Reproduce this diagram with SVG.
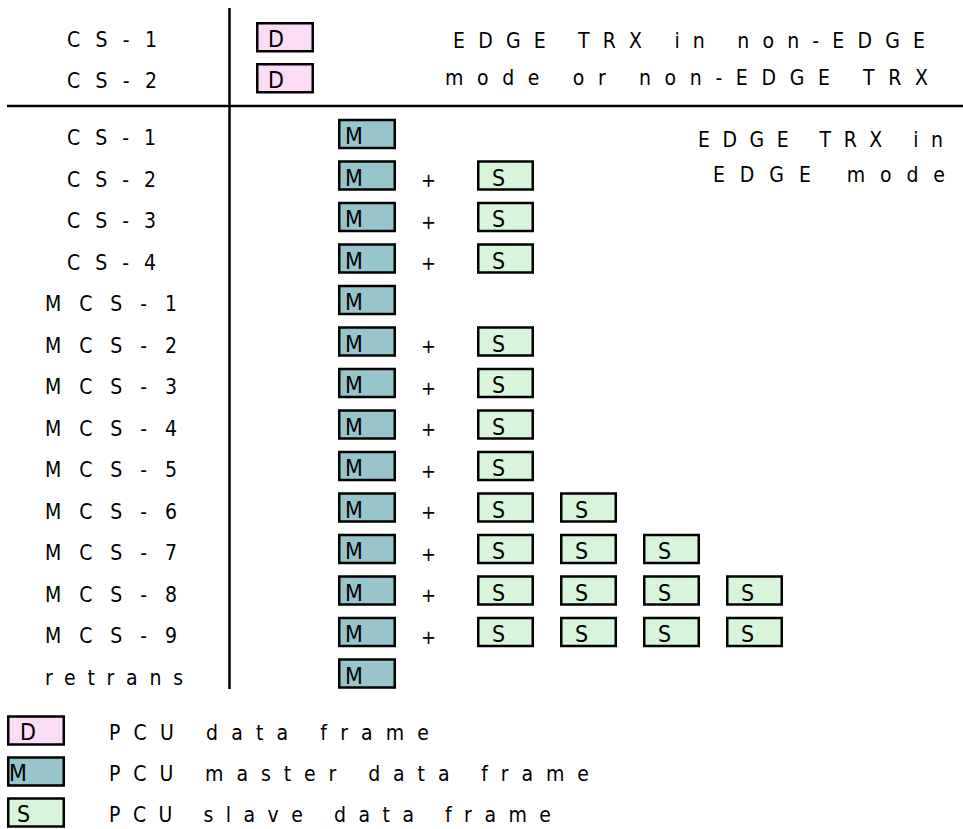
<svg xmlns="http://www.w3.org/2000/svg" width="963" height="829" viewBox="0 0 963 829">
<style>
text{font-family:"DejaVu Sans Condensed","Liberation Sans Narrow","DejaVu Sans",sans-serif;font-stretch:condensed;font-size:21px;fill:#000}
.k{font-size:23px}
.p{font-size:20px}
.bx{stroke:#000;stroke-width:2.5}
.d{fill:#fbdcf6}
.m{fill:#98c5cb}
.s{fill:#d8f5db}
.rule{stroke:#000;stroke-width:2.5;fill:none}
</style>
<rect width="963" height="829" fill="#fff"/>
<g id="connectors">
<line class="rule" x1="229.5" y1="8" x2="229.5" y2="689"/>
<line class="rule" x1="7" y1="106" x2="963" y2="106"/>
</g>
<g id="header">
<text x="453" y="48" textLength="472" lengthAdjust="spacing">EDGE TRX in non-EDGE</text>
<text x="445" y="85" textLength="483" lengthAdjust="spacing">mode or non-EDGE TRX</text>
<text x="698" y="147" textLength="245" lengthAdjust="spacing">EDGE TRX in</text>
<text x="713" y="182" textLength="232" lengthAdjust="spacing">EDGE mode</text>
</g>
<g id="top-cs1">
<text x="67" y="47" textLength="90" lengthAdjust="spacing">CS-1</text>
<rect class="bx d" x="257.25" y="23.25" width="55.5" height="28"/><text class="k" x="268" y="47">D</text>
</g>
<g id="top-cs2">
<text x="67" y="88" textLength="90" lengthAdjust="spacing">CS-2</text>
<rect class="bx d" x="257.25" y="64.25" width="55.5" height="28"/><text class="k" x="268" y="88">D</text>
</g>
<g id="row-cs1">
<text x="67" y="145" textLength="89" lengthAdjust="spacing">CS-1</text>
<rect class="bx m" x="339.25" y="120" width="55.5" height="28"/><text class="k" x="345" y="144">M</text>
</g>
<g id="row-cs2">
<text x="67" y="186.5" textLength="89" lengthAdjust="spacing">CS-2</text>
<rect class="bx m" x="339.25" y="161.5" width="55.5" height="28"/><text class="k" x="345" y="185.5">M</text>
<text class="p" x="421" y="187">+</text>
<rect class="bx s" x="478.25" y="161.5" width="54.5" height="28"/><text class="k" x="492" y="185.5">S</text>
</g>
<g id="row-cs3">
<text x="67" y="228" textLength="89" lengthAdjust="spacing">CS-3</text>
<rect class="bx m" x="339.25" y="203" width="55.5" height="28"/><text class="k" x="345" y="227">M</text>
<text class="p" x="421" y="228.5">+</text>
<rect class="bx s" x="478.25" y="203" width="54.5" height="28"/><text class="k" x="492" y="227">S</text>
</g>
<g id="row-cs4">
<text x="67" y="269.5" textLength="89" lengthAdjust="spacing">CS-4</text>
<rect class="bx m" x="339.25" y="244.5" width="55.5" height="28"/><text class="k" x="345" y="268.5">M</text>
<text class="p" x="421" y="270">+</text>
<rect class="bx s" x="478.25" y="244.5" width="54.5" height="28"/><text class="k" x="492" y="268.5">S</text>
</g>
<g id="row-mcs1">
<text x="45" y="311" textLength="132" lengthAdjust="spacing">MCS-1</text>
<rect class="bx m" x="339.25" y="286" width="55.5" height="28"/><text class="k" x="345" y="310">M</text>
</g>
<g id="row-mcs2">
<text x="45" y="352.5" textLength="132" lengthAdjust="spacing">MCS-2</text>
<rect class="bx m" x="339.25" y="327.5" width="55.5" height="28"/><text class="k" x="345" y="351.5">M</text>
<text class="p" x="421" y="353">+</text>
<rect class="bx s" x="478.25" y="327.5" width="54.5" height="28"/><text class="k" x="492" y="351.5">S</text>
</g>
<g id="row-mcs3">
<text x="45" y="394" textLength="132" lengthAdjust="spacing">MCS-3</text>
<rect class="bx m" x="339.25" y="369" width="55.5" height="28"/><text class="k" x="345" y="393">M</text>
<text class="p" x="421" y="394.5">+</text>
<rect class="bx s" x="478.25" y="369" width="54.5" height="28"/><text class="k" x="492" y="393">S</text>
</g>
<g id="row-mcs4">
<text x="45" y="435.5" textLength="132" lengthAdjust="spacing">MCS-4</text>
<rect class="bx m" x="339.25" y="410.5" width="55.5" height="28"/><text class="k" x="345" y="434.5">M</text>
<text class="p" x="421" y="436">+</text>
<rect class="bx s" x="478.25" y="410.5" width="54.5" height="28"/><text class="k" x="492" y="434.5">S</text>
</g>
<g id="row-mcs5">
<text x="45" y="477" textLength="132" lengthAdjust="spacing">MCS-5</text>
<rect class="bx m" x="339.25" y="452" width="55.5" height="28"/><text class="k" x="345" y="476">M</text>
<text class="p" x="421" y="477.5">+</text>
<rect class="bx s" x="478.25" y="452" width="54.5" height="28"/><text class="k" x="492" y="476">S</text>
</g>
<g id="row-mcs6">
<text x="45" y="518.5" textLength="132" lengthAdjust="spacing">MCS-6</text>
<rect class="bx m" x="339.25" y="493.5" width="55.5" height="28"/><text class="k" x="345" y="517.5">M</text>
<text class="p" x="421" y="519">+</text>
<rect class="bx s" x="478.25" y="493.5" width="54.5" height="28"/><text class="k" x="492" y="517.5">S</text>
<rect class="bx s" x="561.25" y="493.5" width="54.5" height="28"/><text class="k" x="575" y="517.5">S</text>
</g>
<g id="row-mcs7">
<text x="45" y="560" textLength="132" lengthAdjust="spacing">MCS-7</text>
<rect class="bx m" x="339.25" y="535" width="55.5" height="28"/><text class="k" x="345" y="559">M</text>
<text class="p" x="421" y="560.5">+</text>
<rect class="bx s" x="478.25" y="535" width="54.5" height="28"/><text class="k" x="492" y="559">S</text>
<rect class="bx s" x="561.25" y="535" width="54.5" height="28"/><text class="k" x="575" y="559">S</text>
<rect class="bx s" x="644.25" y="535" width="54.5" height="28"/><text class="k" x="658" y="559">S</text>
</g>
<g id="row-mcs8">
<text x="45" y="601.5" textLength="132" lengthAdjust="spacing">MCS-8</text>
<rect class="bx m" x="339.25" y="576.5" width="55.5" height="28"/><text class="k" x="345" y="600.5">M</text>
<text class="p" x="421" y="602">+</text>
<rect class="bx s" x="478.25" y="576.5" width="54.5" height="28"/><text class="k" x="492" y="600.5">S</text>
<rect class="bx s" x="561.25" y="576.5" width="54.5" height="28"/><text class="k" x="575" y="600.5">S</text>
<rect class="bx s" x="644.25" y="576.5" width="54.5" height="28"/><text class="k" x="658" y="600.5">S</text>
<rect class="bx s" x="727.25" y="576.5" width="54.5" height="28"/><text class="k" x="741" y="600.5">S</text>
</g>
<g id="row-mcs9">
<text x="45" y="643" textLength="132" lengthAdjust="spacing">MCS-9</text>
<rect class="bx m" x="339.25" y="618" width="55.5" height="28"/><text class="k" x="345" y="642">M</text>
<text class="p" x="421" y="643.5">+</text>
<rect class="bx s" x="478.25" y="618" width="54.5" height="28"/><text class="k" x="492" y="642">S</text>
<rect class="bx s" x="561.25" y="618" width="54.5" height="28"/><text class="k" x="575" y="642">S</text>
<rect class="bx s" x="644.25" y="618" width="54.5" height="28"/><text class="k" x="658" y="642">S</text>
<rect class="bx s" x="727.25" y="618" width="54.5" height="28"/><text class="k" x="741" y="642">S</text>
</g>
<g id="row-retrans">
<text x="45" y="684.5" textLength="138" lengthAdjust="spacing">retrans</text>
<rect class="bx m" x="339.25" y="659.5" width="55.5" height="28"/><text class="k" x="345" y="683.5">M</text>
</g>
<g id="legend-d">
<rect class="bx d" x="8.25" y="716.5" width="55.5" height="28"/><text class="k" x="20" y="740">D</text>
<text x="109" y="740" textLength="320" lengthAdjust="spacing">PCU data frame</text>
</g>
<g id="legend-m">
<rect class="bx m" x="8.25" y="757.5" width="55.5" height="28"/><text class="k" x="9" y="781">M</text>
<text x="109" y="781" textLength="480" lengthAdjust="spacing">PCU master data frame</text>
</g>
<g id="legend-s">
<rect class="bx s" x="8.25" y="798.5" width="55.5" height="28"/><text class="k" x="17" y="822">S</text>
<text x="109" y="822" textLength="442" lengthAdjust="spacing">PCU slave data frame</text>
</g>
</svg>
